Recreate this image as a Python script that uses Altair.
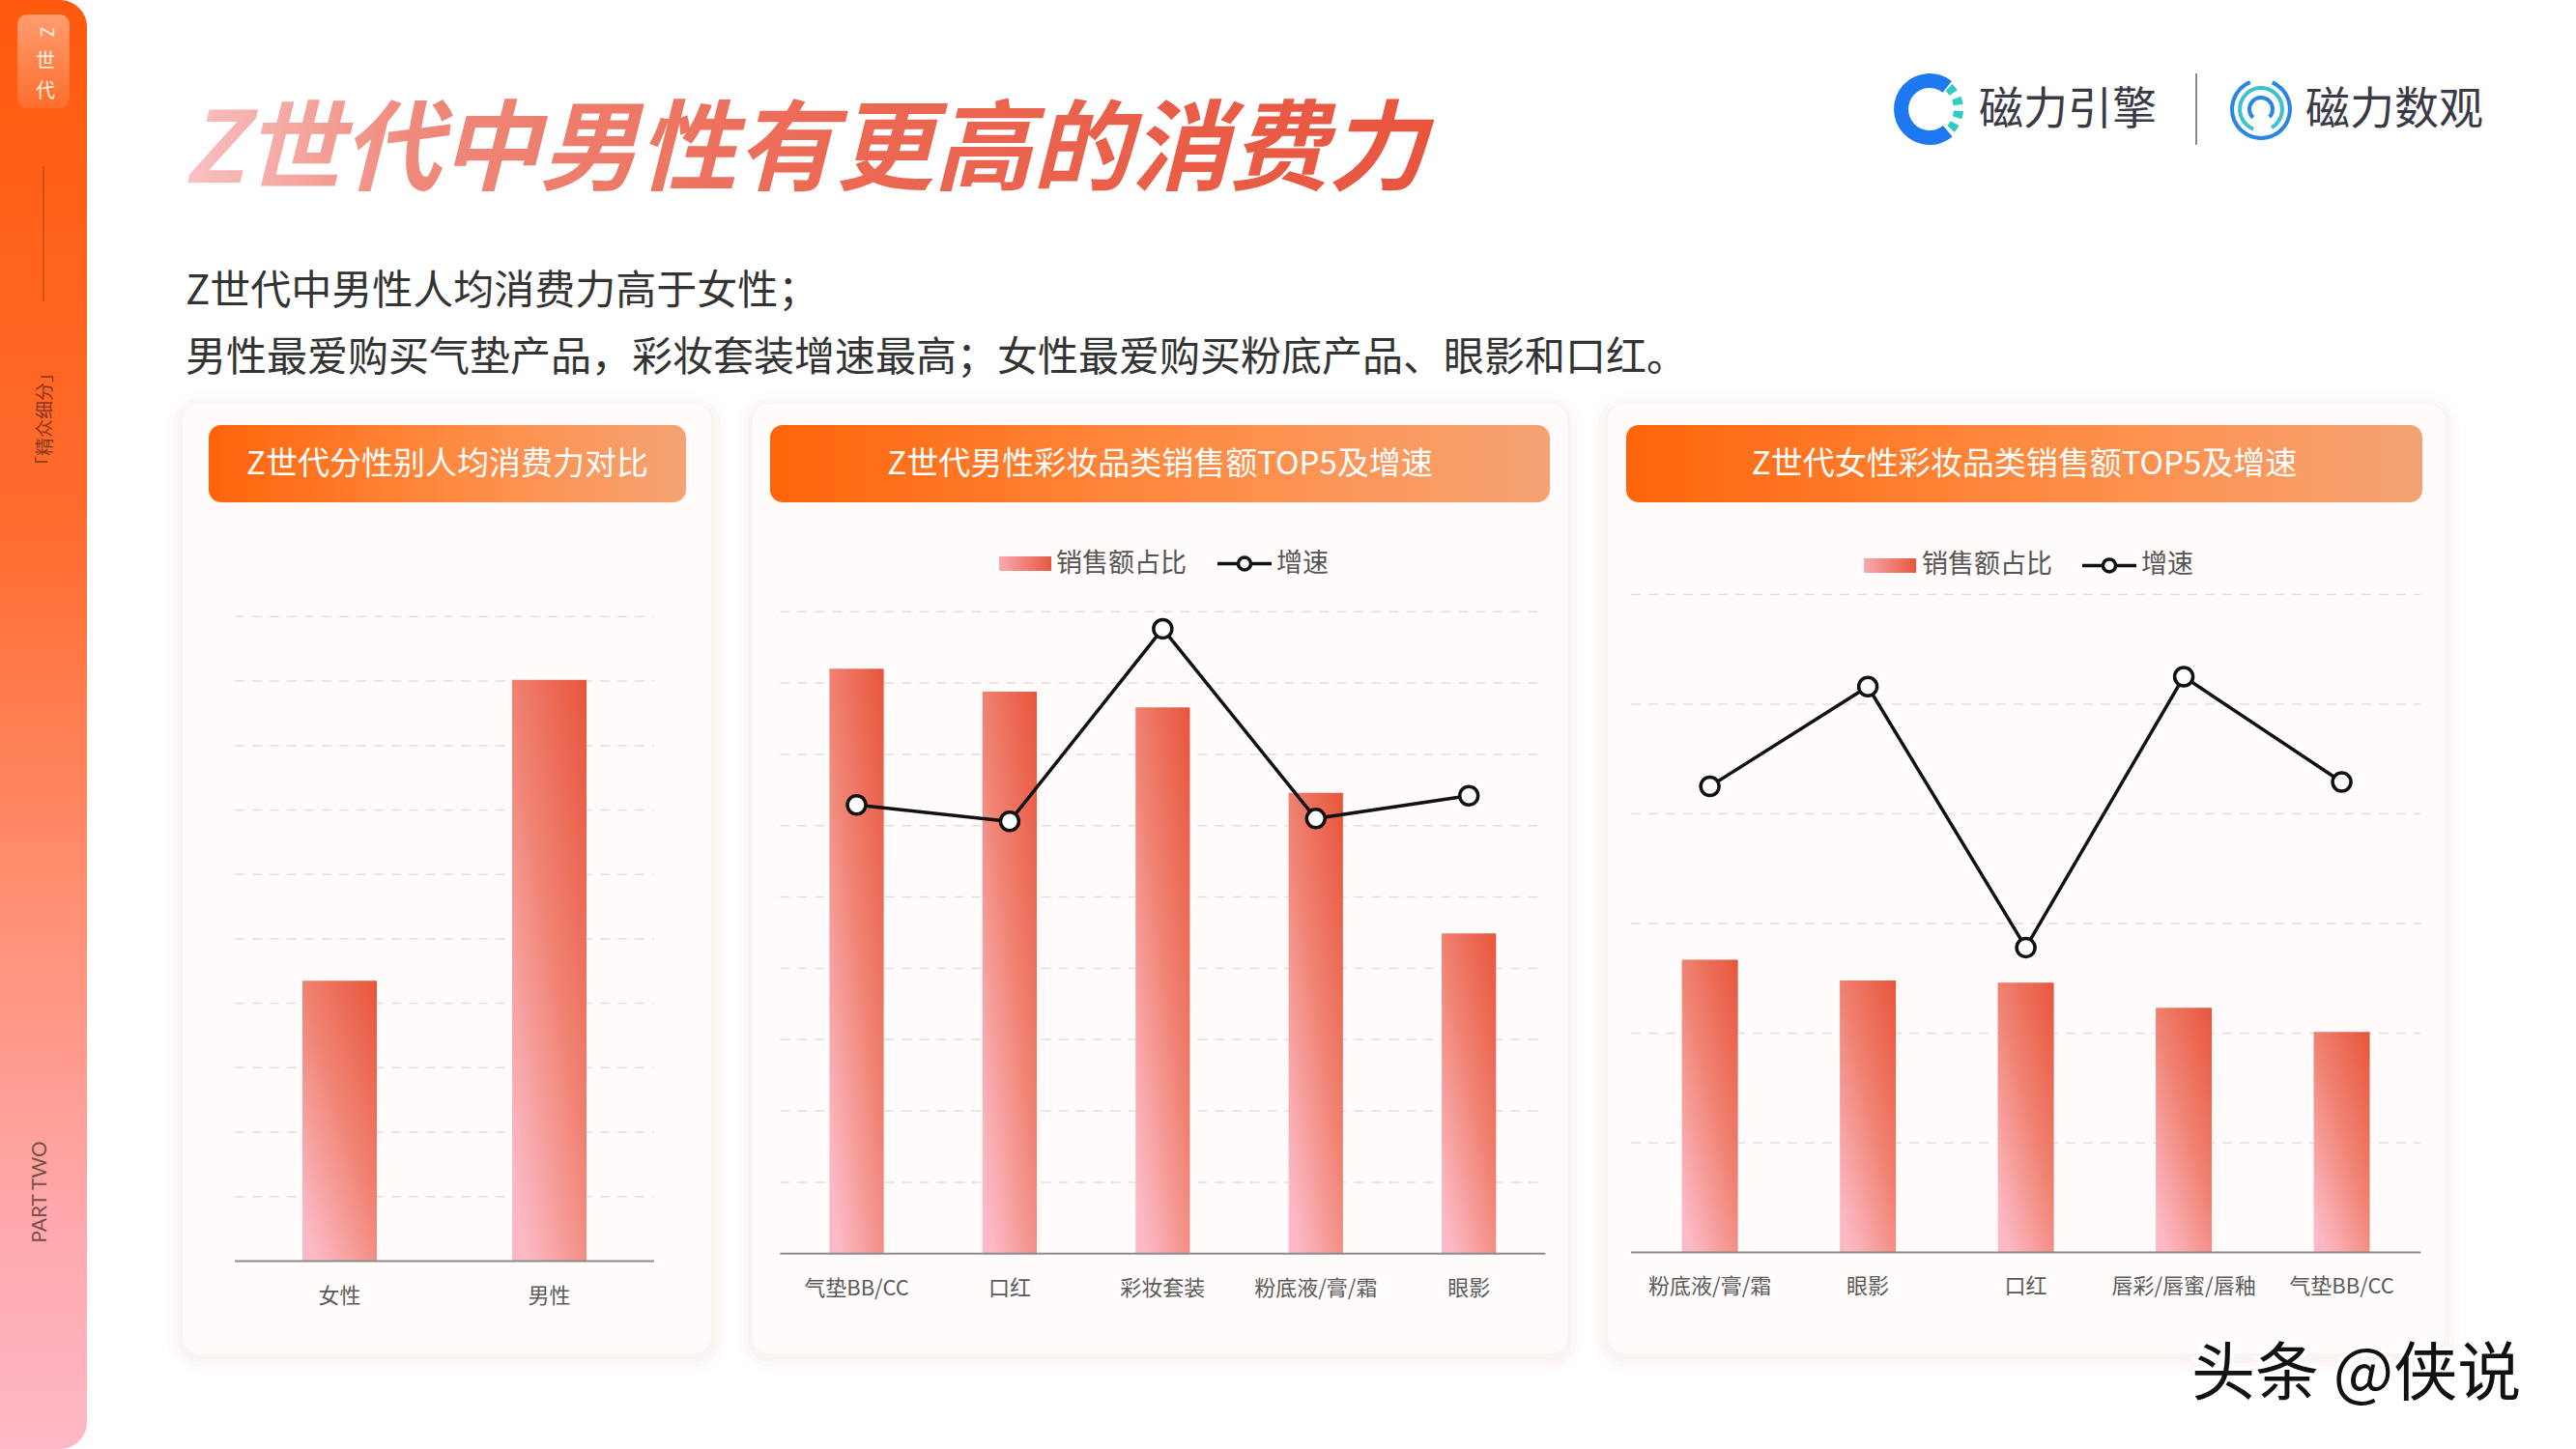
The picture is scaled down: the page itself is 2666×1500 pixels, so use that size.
import altair as alt
import pandas as pd

# ---------------- data ----------------
gender_labels = ["女性", "男性"]
gender_values = [4.35, 9.02]

male_cats = ["气垫BB/CC", "口红", "彩妆套装", "粉底液/膏/霜", "眼影"]
male_share = [8.20, 7.88, 7.66, 6.46, 4.49]
male_growth = [6.29, 6.06, 8.76, 6.10, 6.42]

female_cats = ["粉底液/膏/霜", "眼影", "口红", "唇彩/唇蜜/唇釉", "气垫BB/CC"]
female_share = [2.67, 2.48, 2.46, 2.23, 2.01]
female_growth = [4.25, 5.16, 2.78, 5.25, 4.29]

title_text = "Z世代中男性有更高的消费力"
sub1 = "Z世代中男性人均消费力高于女性；"
sub2 = "男性最爱购买气垫产品，彩妆套装增速最高；女性最爱购买粉底产品、眼影和口红。"
head1 = "Z世代分性别人均消费力对比"
head2 = "Z世代男性彩妆品类销售额TOP5及增速"
head3 = "Z世代女性彩妆品类销售额TOP5及增速"
legend_bar = "销售额占比"
legend_line = "增速"

FONT = "Noto Sans CJK SC"
one = pd.DataFrame({"a": [0]})


def grad(stops, x1=0, y1=0, x2=0, y2=1):
    return alt.LinearGradient(
        gradient="linear",
        stops=[alt.GradientStop(color=c, offset=o) for o, c in stops],
        x1=x1, y1=y1, x2=x2, y2=y2,
    )


def rect(x, x2, y, y2, **kw):
    return alt.Chart(one).mark_rect(**kw).encode(
        x=alt.value(x), x2=alt.value(x2), y=alt.value(y), y2=alt.value(y2)
    )


def text(t, x, y, **kw):
    kw.setdefault("font", FONT)
    return alt.Chart(one).mark_text(text=t, **kw).encode(x=alt.value(x), y=alt.value(y))


BAR_GRAD = grad([(0, "#E8553B"), (0.5, "#F08272"), (1, "#FCB9C5")], x1=1, y1=0, x2=0.2, y2=1)
HEAD_GRAD = grad([(0, "#FF640A"), (0.5, "#FF8A40"), (1, "#F5A374")], x1=0, y1=0, x2=1, y2=0)

layers = []

# ---------------- sidebar ----------------
layers.append(rect(0, 90, 0, 1500,
                   color=grad([(0, "#FF5A0E"), (0.35, "#FF6B2C"), (0.62, "#FF8F72"),
                               (0.85, "#FFA9AE"), (1, "#FFB8C6")]),
                   cornerRadiusTopRight=28, cornerRadiusBottomRight=28))
layers.append(rect(18, 72, 15, 112, cornerRadius=10,
                   color=grad([(0, "#FF9C70"), (1, "#FF6E2C")])))
layers.append(text("Z", 47, 33, angle=90, fontSize=18, color="#FFF3E6", align="center", baseline="middle"))
layers.append(text("世", 47, 64, fontSize=20, color="#FFF3E6", align="center", baseline="middle"))
layers.append(text("代", 47, 95, fontSize=20, color="#FFF3E6", align="center", baseline="middle"))
layers.append(alt.Chart(one).mark_rule(color="#B8460E", strokeWidth=1.2).encode(
    x=alt.value(45), y=alt.value(172), y2=alt.value(312)))
layers.append(text("「精众细分」", 47, 434, angle=270, fontSize=19, color="#8A3A22", align="center", baseline="middle"))
layers.append(text("PART  TWO", 42, 1234, angle=270, fontSize=21, color="#7A5048",
                   align="center", baseline="middle", font="Lato"))

# ---------------- title, subtitle ----------------
layers.append(text(title_text, 190, 158, fontSize=102, fontWeight="bold", fontStyle="italic",
                   color=grad([(0, "#F9C2C2"), (0.18, "#F08A7C"), (0.5, "#EC6A55"), (1, "#E8553F")],
                              x1=0, y1=0, x2=1, y2=0),
                   align="left", baseline="middle"))
layers.append(text(sub1, 192, 302, fontSize=42, color="#333333", align="left", baseline="middle"))
layers.append(text(sub2, 192, 371, fontSize=42, color="#333333", align="left", baseline="middle"))

# ---------------- logos ----------------
layers.append(alt.Chart(one).mark_arc(color="#1E78F0", theta=2.45, theta2=6.95, radius=37, radius2=22).encode(
    x=alt.value(1997), y=alt.value(113)))
for a in [0.85, 1.3, 1.75, 2.2]:
    layers.append(alt.Chart(one).mark_arc(color="#2FCDBE", theta=a - 0.12, theta2=a + 0.12, radius=35, radius2=25).encode(
        x=alt.value(1997), y=alt.value(113)))
layers.append(text("磁力引擎", 2048, 114, fontSize=46, color="#3A3A46", align="left", baseline="middle"))
layers.append(alt.Chart(one).mark_rule(color="#8A8A8A", strokeWidth=2).encode(
    x=alt.value(2273), y=alt.value(76), y2=alt.value(150)))
layers.append(alt.Chart(one).mark_arc(color="#2A86E6", theta=0.4, theta2=5.9, radius=32, radius2=28).encode(
    x=alt.value(2340), y=alt.value(113)))
layers.append(alt.Chart(one).mark_arc(color="#3CC2CF", theta=3.5, theta2=8.9, radius=24, radius2=20).encode(
    x=alt.value(2340), y=alt.value(113)))
layers.append(alt.Chart(one).mark_arc(color="#2A86E6", theta=3.9, theta2=8.6, radius=14, radius2=10).encode(
    x=alt.value(2340), y=alt.value(113)))
layers.append(text("磁力数观", 2386, 114, fontSize=46, color="#3A3A46", align="left", baseline="middle"))

# ---------------- cards ----------------
cards = [(189, 736), (779, 1622), (1664, 2530)]
for (a, b) in cards:
    for d, op in [(16, 0.035), (10, 0.05), (5, 0.07)]:
        layers.append(rect(a - d, b + d, 418 - d + 4, 1401 + d + 4, cornerRadius=18 + d,
                           color="#D9B2A8", opacity=op))
    layers.append(rect(a, b, 418, 1401, cornerRadius=18, color="#FFFCFB"))

heads = [(216, 710, head1), (797, 1604, head2), (1683, 2507, head3)]
for (a, b, t) in heads:
    layers.append(rect(a, b, 440, 520, cornerRadius=13, color=HEAD_GRAD))
    layers.append(text(t, (a + b) / 2, 481, fontSize=33, color="#FFFFFF", align="center", baseline="middle"))


# ---------------- panels ----------------
def panel(cats, share, xr, yr, ymax, label_y, growth=None):
    df = pd.DataFrame({"cat": cats, "share": share})
    xs = alt.Scale(type="band", domain=cats, range=xr, paddingInner=0.645, paddingOuter=0.3225)
    ys = alt.Scale(domain=[0, ymax], range=yr, nice=False, zero=True)
    grid = alt.Chart(pd.DataFrame({"g": list(range(1, ymax + 1))})).mark_rule(
        color="#E3DCDA", strokeDash=[10, 8], strokeWidth=1.5
    ).encode(y=alt.Y("g:Q", scale=ys, axis=None), x=alt.value(xr[0]), x2=alt.value(xr[1]))
    base = alt.Chart(pd.DataFrame({"g": [0]})).mark_rule(color="#8C8C8C", strokeWidth=2).encode(
        y=alt.Y("g:Q", scale=ys, axis=None), x=alt.value(xr[0]), x2=alt.value(xr[1]))
    bars = alt.Chart(df).mark_bar(color=BAR_GRAD).encode(
        x=alt.X("cat:N", scale=xs, axis=None, sort=cats),
        y=alt.Y("share:Q", scale=ys, axis=None),
    )
    labels = alt.Chart(df).mark_text(font=FONT, fontSize=22, color="#5A5A5A", baseline="middle").encode(
        x=alt.X("cat:N", scale=xs, axis=None, sort=cats),
        y=alt.value(label_y),
        text="cat:N",
    )
    parts = [grid, bars, base, labels]
    if growth is not None:
        gdf = pd.DataFrame({"cat": cats, "growth": growth})
        line = alt.Chart(gdf).mark_line(color="#111111", strokeWidth=3.5).encode(
            x=alt.X("cat:N", scale=xs, axis=None, sort=cats),
            y=alt.Y("growth:Q", scale=ys, axis=None),
        )
        pts = alt.Chart(gdf).mark_point(shape="circle", fill="#FFFFFF", stroke="#111111",
                                        strokeWidth=3.5, size=360, opacity=1, fillOpacity=1).encode(
            x=alt.X("cat:N", scale=xs, axis=None, sort=cats),
            y=alt.Y("growth:Q", scale=ys, axis=None),
        )
        parts += [line, pts]
    return alt.layer(*parts)


layers.append(panel(gender_labels, gender_values, [243, 677], [1305.4, 638.3], 10, 1342))
layers.append(panel(male_cats, male_share, [807.3, 1599.4], [1297.8, 633.2], 9, 1334, male_growth))
layers.append(panel(female_cats, female_share, [1687.9, 2505.3], [1296.5, 615.4], 6, 1332, female_growth))

# ---------------- legends ----------------
LEG_GRAD = grad([(0, "#F9A9B2"), (1, "#E8583E")], x1=0, y1=0, x2=1, y2=0)
for (rx, tx, lx, cx, sx, cy) in [(1034, 1093, 1260, 1288, 1321, 583.5),
                                 (1929, 1989, 2155, 2183, 2216, 585.4)]:
    layers.append(rect(rx, rx + 54, cy - 7.5, cy + 7.5, color=LEG_GRAD))
    layers.append(text(legend_bar, tx, cy, fontSize=27, color="#555555", align="left", baseline="middle"))
    layers.append(alt.Chart(one).mark_rule(color="#111111", strokeWidth=3.5).encode(
        x=alt.value(lx), x2=alt.value(lx + 56), y=alt.value(cy)))
    layers.append(alt.Chart(one).mark_point(shape="circle", fill="#FFFFFF", stroke="#111111",
                                            strokeWidth=3.5, size=170, opacity=1, fillOpacity=1).encode(
        x=alt.value(cx), y=alt.value(cy)))
    layers.append(text(legend_line, sx, cy, fontSize=27, color="#555555", align="left", baseline="middle"))

# ---------------- watermark ----------------
layers.append(text("头条 @侠说", 2268, 1424, fontSize=66, color="#FFFFFF", stroke="#FFFFFF",
                   strokeWidth=8, align="left", baseline="middle"))
layers.append(text("头条 @侠说", 2268, 1424, fontSize=66, color="#111111", align="left", baseline="middle"))

chart = alt.layer(*layers).resolve_scale(x="independent", y="independent").properties(
    width=2666, height=1500, padding=0, autosize="none", background="#FFFFFF"
).configure_view(stroke=None)

chart.save("out.html", embed_options={"renderer": "svg", "actions": False})
